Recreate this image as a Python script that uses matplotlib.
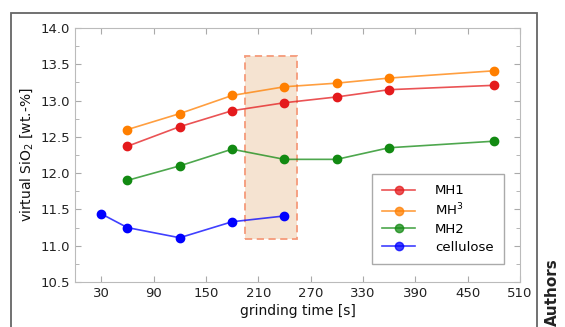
import matplotlib
matplotlib.use("Agg")
import matplotlib.pyplot as plt
from matplotlib.patches import Rectangle
from matplotlib.ticker import MultipleLocator, FormatStrFormatter
from matplotlib.lines import Line2D

plt.rcParams['font.family'] = ['DejaVu Sans']

# Data
t_mh = [60, 120, 180, 240, 300, 360, 480]
mh1 = [12.37, 12.64, 12.86, 12.97, 13.05, 13.15, 13.21]
mh3 = [12.60, 12.82, 13.07, 13.19, 13.24, 13.31, 13.41]
mh2 = [11.90, 12.10, 12.33, 12.19, 12.19, 12.35, 12.44]
t_cel = [30, 60, 120, 180, 240]
cellulose = [11.44, 11.25, 11.11, 11.33, 11.41]
xticks = [30, 90, 150, 210, 270, 330, 390, 450, 510]
region_x = [195, 255]
region_y = [11.09, 13.62]

fig = plt.figure(figsize=(5.65, 3.27), dpi=100)
ax = fig.add_axes([0.1327, 0.1376, 0.7876, 0.7768])

# outer frame
fig.patches.append(Rectangle((11/565, -0.05), (537-11)/565, 1 - 13/327 + 0.05,
                             transform=fig.transFigure, fill=False,
                             edgecolor='#666666', linewidth=1.3, clip_on=False))

ax.add_patch(Rectangle((region_x[0], region_y[0]), region_x[1]-region_x[0],
                       region_y[1]-region_y[0], facecolor='#f5e3d1',
                       edgecolor='#f59a7a', linestyle=(0, (4, 2.5)), linewidth=1.3, zorder=1))

series = [
    (t_mh, mh1, '#e41a1c', 'MH1'),
    (t_mh, mh3, '#ff7f00', 'MH$^3$'),
    (t_mh, mh2, '#128a12', 'MH2'),
    (t_cel, cellulose, '#0000ff', 'cellulose'),
]
for x, y, c, lab in series:
    ax.plot(x, y, color=c, alpha=0.75, linewidth=1.2, zorder=2)
    ax.plot(x, y, linestyle='none', marker='o', markersize=6, color=c, zorder=3)
handles = [Line2D([], [], color=c, linewidth=1.2, alpha=0.75, marker='o', markersize=6,
                  markerfacecolor=c, markeredgecolor=c) for _, _, c, _ in series]
leg = ax.legend(handles, [s[3] for s in series], loc='lower right',
                bbox_to_anchor=(0.965, 0.07), fontsize=9.5, fancybox=False,
                edgecolor='#aaaaaa', framealpha=1, handlelength=2.5, borderpad=0.8,
                labelspacing=0.35, handletextpad=1.5, borderaxespad=0)
leg.get_frame().set_linewidth(1.0)

ax.set_xlim(0, 510)
ax.set_ylim(10.5, 14.0)
ax.set_xticks(xticks)
ax.yaxis.set_major_locator(MultipleLocator(0.5))
ax.yaxis.set_minor_locator(MultipleLocator(0.25))
ax.yaxis.set_major_formatter(FormatStrFormatter('%.1f'))
ax.tick_params(which='both', direction='in', top=True, right=True, color='#aaaaaa',
               labelsize=9.5, labelcolor='#222222')
ax.tick_params(which='major', length=4)
ax.tick_params(which='minor', length=3)
for s in ax.spines.values():
    s.set_color('#bbbbbb')
ax.set_xlabel('grinding time [s]', fontsize=10, color='#111111', labelpad=3)
ax.set_ylabel('virtual SiO$_2$ [wt.-%]', fontsize=10, color='#111111', labelpad=4)

fig.text(0.978, 0.004, 'Authors', rotation=90, ha='center', va='bottom',
         fontsize=11, fontweight='bold', color='#222222')

fig.savefig('out.png', dpi=100)
